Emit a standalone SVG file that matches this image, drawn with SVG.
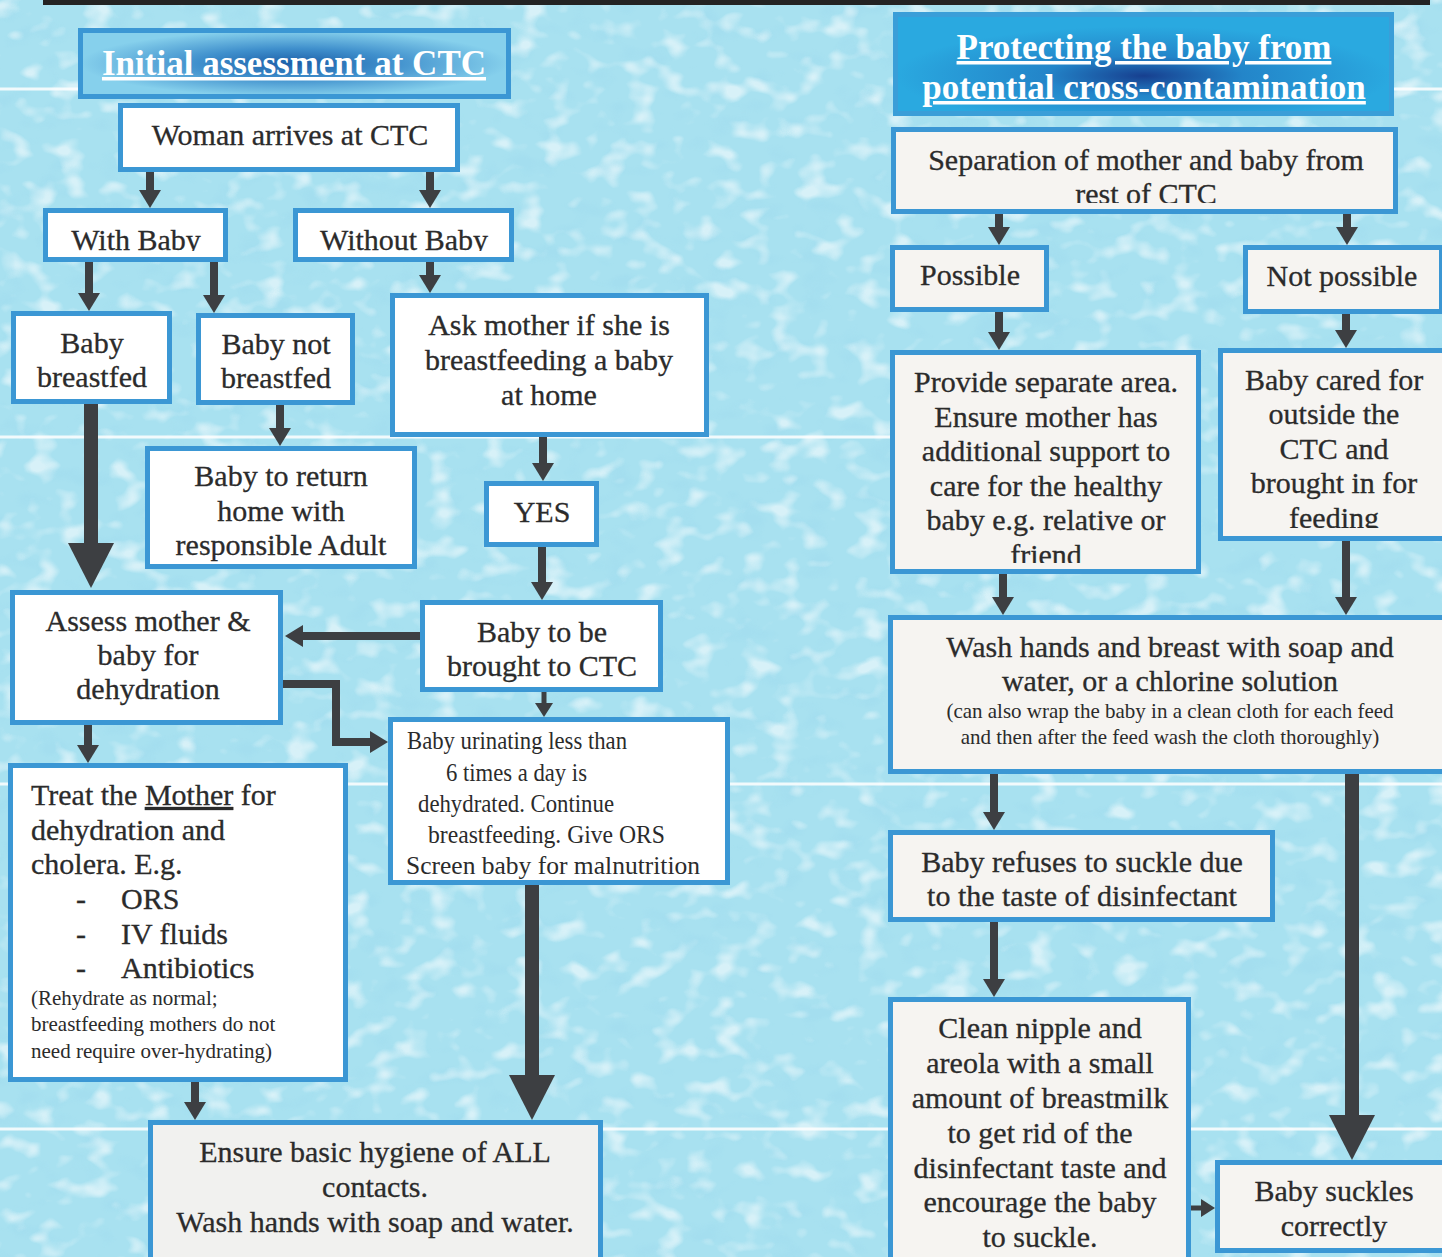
<svg xmlns="http://www.w3.org/2000/svg" width="1442" height="1257" viewBox="0 0 1442 1257">
<defs>
<style>
.box{fill:#ffffff;stroke:#3b97d4;stroke-width:5}
.rbox{fill:#f6f4f1;stroke:#3b97d4;stroke-width:5}
.t{font-family:'Liberation Serif','Times New Roman',serif;font-size:30px;fill:#2b2b2b;stroke:#2b2b2b;stroke-width:0.3;text-anchor:middle}
.tl{font-family:'Liberation Serif','Times New Roman',serif;font-size:30px;fill:#2b2b2b;stroke:#2b2b2b;stroke-width:0.3}
.s{font-family:'Liberation Serif','Times New Roman',serif;font-size:21px;fill:#2b2b2b}
.sc{font-family:'Liberation Serif','Times New Roman',serif;font-size:21px;fill:#2b2b2b;text-anchor:middle}
.c{font-family:'Liberation Serif','Times New Roman',serif;font-size:26px;fill:#2b2b2b}
.title{font-family:'Liberation Serif','Times New Roman',serif;font-size:35px;font-weight:bold;fill:#ffffff;text-anchor:middle;text-decoration:underline}
.ln{fill:none;stroke:#3d3f42;stroke-width:8}
.lnb{fill:none;stroke:#3d3f42;stroke-width:14}
.lnm{fill:none;stroke:#3d3f42;stroke-width:5}
.bg-line{stroke:#ffffff;stroke-width:3;opacity:0.85}
</style>
<marker id="ah" viewBox="0 0 18 22" markerWidth="18" markerHeight="22" refX="1" refY="11" orient="auto" markerUnits="userSpaceOnUse">
<path d="M0,0 L18,11 L0,22 z" fill="#3d3f42"/>
</marker>
<marker id="am" viewBox="0 0 14 18" markerWidth="14" markerHeight="18" refX="1" refY="9" orient="auto" markerUnits="userSpaceOnUse">
<path d="M0,0 L14,9 L0,18 z" fill="#3d3f42"/>
</marker>
<marker id="ab" viewBox="0 0 45 46" markerWidth="45" markerHeight="46" refX="1" refY="23" orient="auto" markerUnits="userSpaceOnUse">
<path d="M0,0 L45,23 L0,46 z" fill="#3d3f42"/>
</marker>
<filter id="tex" x="0" y="0" width="100%" height="100%">
<feTurbulence type="fractalNoise" baseFrequency="0.035 0.05" numOctaves="2" seed="4" result="n"/>
<feColorMatrix in="n" type="matrix" values="0 0 0 0 1  0 0 0 0 1  0 0 0 0 1  4 0 0 0 -2.1"/>
</filter>
<filter id="tex2" x="0" y="0" width="100%" height="100%">
<feTurbulence type="fractalNoise" baseFrequency="0.03 0.045" numOctaves="2" seed="11" result="n"/>
<feColorMatrix in="n" type="matrix" values="0 0 0 0 0.36  0 0 0 0 0.72  0 0 0 0 0.86  4 0 0 0 -2.2"/>
</filter>
<radialGradient id="g1" cx="0.5" cy="0.5" r="0.5">
<stop offset="0" stop-color="#1c5fa8"/>
<stop offset="0.45" stop-color="#3f8fcc"/>
<stop offset="1" stop-color="#86d0ec"/>
</radialGradient>
<radialGradient id="g2" cx="0.5" cy="0.62" r="0.5">
<stop offset="0" stop-color="#173f8f"/>
<stop offset="0.4" stop-color="#2385c9"/>
<stop offset="1" stop-color="#2aa9e0"/>
</radialGradient>
<clipPath id="cWith"><rect x="43" y="200" width="190" height="51"/></clipPath>
<clipPath id="cWithout"><rect x="290" y="200" width="230" height="51"/></clipPath>
<clipPath id="cSep"><rect x="891" y="120" width="510" height="83"/></clipPath>
<clipPath id="cProv"><rect x="890" y="350" width="312" height="213"/></clipPath>
<clipPath id="cCared"><rect x="1218" y="348" width="224" height="180"/></clipPath>
</defs>

<g id="background">
<rect x="0" y="0" width="1442" height="1257" fill="#a8e1f0"/>
<rect x="0" y="0" width="1442" height="1257" filter="url(#tex2)" opacity="0.6"/>
<rect x="0" y="0" width="1442" height="1257" filter="url(#tex)" opacity="0.55"/>
<rect x="43" y="0" width="1387" height="5" fill="#232323"/>
<line class="bg-line" x1="0" y1="89" x2="80" y2="89"/>
<line class="bg-line" x1="1394" y1="89" x2="1442" y2="89"/>
<line class="bg-line" x1="0" y1="437" x2="892" y2="437"/>
<line class="bg-line" x1="0" y1="784" x2="1442" y2="784"/>
<line class="bg-line" x1="0" y1="1129" x2="1442" y2="1129"/>
</g>

<g id="title-initial">
<rect x="80.5" y="30.5" width="428" height="66" fill="url(#g1)" stroke="#3b97d4" stroke-width="5"/>
<text class="title" x="294" y="75">Initial assessment at CTC</text>
</g>

<g id="title-protecting">
<rect x="895.5" y="14.5" width="496" height="99" fill="url(#g2)" stroke="#3a9ed8" stroke-width="5"/>
<text class="title" x="1144" y="59">Protecting the baby from</text>
<text class="title" x="1144" y="99">potential cross-contamination</text>
</g>

<g id="connectors">
<path class="ln" d="M150,172 V191" marker-end="url(#ah)"/>
<path class="ln" d="M430,172 V191" marker-end="url(#ah)"/>
<path class="ln" d="M89,262 V294" marker-end="url(#ah)"/>
<path class="ln" d="M214,262 V296" marker-end="url(#ah)"/>
<path class="ln" d="M430,262 V276" marker-end="url(#ah)"/>
<path class="ln" d="M280,405 V429" marker-end="url(#ah)"/>
<path class="ln" d="M543,437 V464" marker-end="url(#ah)"/>
<path class="ln" d="M542,547 V583" marker-end="url(#ah)"/>
<path class="ln" d="M420,636 H302" marker-end="url(#ah)"/>
<path class="lnm" d="M544,692 V704" marker-end="url(#am)"/>
<path class="ln" d="M283,684 H336 V742 H371" marker-end="url(#ah)"/>
<path class="ln" d="M88,725 V746" marker-end="url(#ah)"/>
<path class="ln" d="M195,1082 V1103" marker-end="url(#ah)"/>
<path class="lnb" d="M91,404 V544" marker-end="url(#ab)"/>
<path class="lnb" d="M532,885 V1076" marker-end="url(#ab)"/>
<path class="ln" d="M999,214 V228" marker-end="url(#ah)"/>
<path class="ln" d="M1347,214 V228" marker-end="url(#ah)"/>
<path class="ln" d="M999,312 V333" marker-end="url(#ah)"/>
<path class="ln" d="M1346,314 V331" marker-end="url(#ah)"/>
<path class="ln" d="M1003,574 V598" marker-end="url(#ah)"/>
<path class="ln" d="M1346,541 V598" marker-end="url(#ah)"/>
<path class="ln" d="M994,774 V813" marker-end="url(#ah)"/>
<path class="ln" d="M994,922 V980" marker-end="url(#ah)"/>
<path class="lnb" d="M1352,774 V1116" marker-end="url(#ab)"/>
<path class="lnm" d="M1191,1208 H1202" marker-end="url(#am)"/>
</g>

<g id="n-woman">
<rect class="box" x="120.5" y="105.5" width="337" height="64"/>
<text class="t" x="290" y="145">Woman arrives at CTC</text>
</g>
<g id="n-with-baby">
<rect class="box" x="45.5" y="210.5" width="180" height="49"/>
<text class="t" x="136" y="250" clip-path="url(#cWith)">With Baby</text>
</g>
<g id="n-without-baby">
<rect class="box" x="295.5" y="210.5" width="216" height="49"/>
<text class="t" x="404" y="250" clip-path="url(#cWithout)">Without Baby</text>
</g>
<g id="n-breastfed">
<rect class="box" x="13.5" y="313.5" width="156" height="88"/>
<text class="t" x="92" y="353">Baby</text>
<text class="t" x="92" y="387">breastfed</text>
</g>
<g id="n-not-breastfed">
<rect class="box" x="198.5" y="315.5" width="154" height="87"/>
<text class="t" x="276" y="354">Baby not</text>
<text class="t" x="276" y="388">breastfed</text>
</g>
<g id="n-ask">
<rect class="box" x="392.5" y="295.5" width="314" height="139"/>
<text class="t" x="549" y="335">Ask mother if she is</text>
<text class="t" x="549" y="370">breastfeeding a baby</text>
<text class="t" x="549" y="405">at home</text>
</g>
<g id="n-return">
<rect class="box" x="147.5" y="448.5" width="267" height="118"/>
<text class="t" x="281" y="486">Baby to return</text>
<text class="t" x="281" y="521">home with</text>
<text class="t" x="281" y="555">responsible Adult</text>
</g>
<g id="n-yes">
<rect class="box" x="486.5" y="483.5" width="110" height="61"/>
<text class="t" x="542" y="522">YES</text>
</g>
<g id="n-assess">
<rect class="box" x="12.5" y="592.5" width="268" height="130"/>
<text class="t" x="148" y="631">Assess mother &amp;</text>
<text class="t" x="148" y="665">baby for</text>
<text class="t" x="148" y="699">dehydration</text>
</g>
<g id="n-brought">
<rect class="box" x="422.5" y="602.5" width="238" height="87"/>
<text class="t" x="542" y="642">Baby to be</text>
<text class="t" x="542" y="676">brought to CTC</text>
</g>
<g id="n-urinating">
<rect class="box" x="390.5" y="719.5" width="337" height="163"/>
<text class="c" x="407" y="749" textLength="220" lengthAdjust="spacingAndGlyphs">Baby urinating less than</text>
<text class="c" x="446" y="781" textLength="141" lengthAdjust="spacingAndGlyphs">6 times a day is</text>
<text class="c" x="418" y="812" textLength="196" lengthAdjust="spacingAndGlyphs">dehydrated. Continue</text>
<text class="c" x="428" y="843" textLength="237" lengthAdjust="spacingAndGlyphs">breastfeeding. Give   ORS</text>
<text class="c" x="406" y="874" textLength="294" lengthAdjust="spacingAndGlyphs">Screen   baby   for   malnutrition</text>
</g>
<g id="n-treat">
<rect class="box" x="10.5" y="765.5" width="335" height="314"/>
<text class="tl" x="31" y="805">Treat the <tspan text-decoration="underline">Mother</tspan> for</text>
<text class="tl" x="31" y="840">dehydration and</text>
<text class="tl" x="31" y="874">cholera. E.g.</text>
<text class="tl" x="76" y="909">-</text>
<text class="tl" x="121" y="909">ORS</text>
<text class="tl" x="76" y="944">-</text>
<text class="tl" x="121" y="944">IV fluids</text>
<text class="tl" x="76" y="978">-</text>
<text class="tl" x="121" y="978">Antibiotics</text>
<text class="s" x="31" y="1005">(Rehydrate as normal;</text>
<text class="s" x="31" y="1031">breastfeeding mothers do not</text>
<text class="s" x="31" y="1058">need require over-hydrating)</text>
</g>
<g id="n-ensure">
<rect x="150.5" y="1122.5" width="450" height="140" fill="#f1f1ef" stroke="#3b97d4" stroke-width="5"/>
<text class="t" x="375" y="1162">Ensure basic hygiene of ALL</text>
<text class="t" x="375" y="1197">contacts.</text>
<text class="t" x="375" y="1232">Wash hands with soap and water.</text>
</g>

<g id="n-separation">
<rect class="rbox" x="893.5" y="129.5" width="502" height="82"/>
<text class="t" x="1146" y="170">Separation of mother and baby from</text>
<text class="t" x="1146" y="204" clip-path="url(#cSep)">rest of CTC</text>
</g>
<g id="n-possible">
<rect class="rbox" x="892.5" y="247.5" width="154" height="62"/>
<text class="t" x="970" y="285">Possible</text>
</g>
<g id="n-not-possible">
<rect class="rbox" x="1245.5" y="247.5" width="196" height="64"/>
<text class="t" x="1342" y="286">Not possible</text>
</g>
<g id="n-provide">
<rect class="rbox" x="892.5" y="352.5" width="306" height="219"/>
<text class="t" x="1046" y="392">Provide separate area.</text>
<text class="t" x="1046" y="427">Ensure mother has</text>
<text class="t" x="1046" y="461">additional support to</text>
<text class="t" x="1046" y="496">care for the healthy</text>
<text class="t" x="1046" y="530">baby e.g. relative or</text>
<text class="t" x="1046" y="565" clip-path="url(#cProv)">friend</text>
</g>
<g id="n-cared">
<rect class="rbox" x="1220.5" y="350.5" width="224" height="188"/>
<text class="t" x="1334" y="390">Baby cared for</text>
<text class="t" x="1334" y="424">outside the</text>
<text class="t" x="1334" y="459">CTC and</text>
<text class="t" x="1334" y="493">brought in for</text>
<text class="t" x="1334" y="528" clip-path="url(#cCared)">feeding</text>
</g>
<g id="n-wash">
<rect class="rbox" x="890.5" y="617.5" width="556" height="154"/>
<text class="t" x="1170" y="657">Wash hands and breast with soap and</text>
<text class="t" x="1170" y="691">water, or a chlorine solution</text>
<text class="sc" x="1170" y="718">(can also wrap the baby in a clean cloth for each feed</text>
<text class="sc" x="1170" y="744">and then after  the feed wash the cloth thoroughly)</text>
</g>
<g id="n-refuses">
<rect class="rbox" x="890.5" y="832.5" width="382" height="87"/>
<text class="t" x="1082" y="872">Baby refuses to suckle due</text>
<text class="t" x="1082" y="906">to the taste of disinfectant</text>
</g>
<g id="n-clean">
<rect class="rbox" x="890.5" y="999.5" width="298" height="265"/>
<text class="t" x="1040" y="1038">Clean nipple and</text>
<text class="t" x="1040" y="1073">areola with a small</text>
<text class="t" x="1040" y="1108">amount of breastmilk</text>
<text class="t" x="1040" y="1143">to get rid of the</text>
<text class="t" x="1040" y="1178">disinfectant taste and</text>
<text class="t" x="1040" y="1212">encourage the baby</text>
<text class="t" x="1040" y="1247">to suckle.</text>
</g>
<g id="n-suckles">
<rect class="rbox" x="1217.5" y="1162.5" width="228" height="88"/>
<text class="t" x="1334" y="1201">Baby suckles</text>
<text class="t" x="1334" y="1236">correctly</text>
</g>
</svg>
